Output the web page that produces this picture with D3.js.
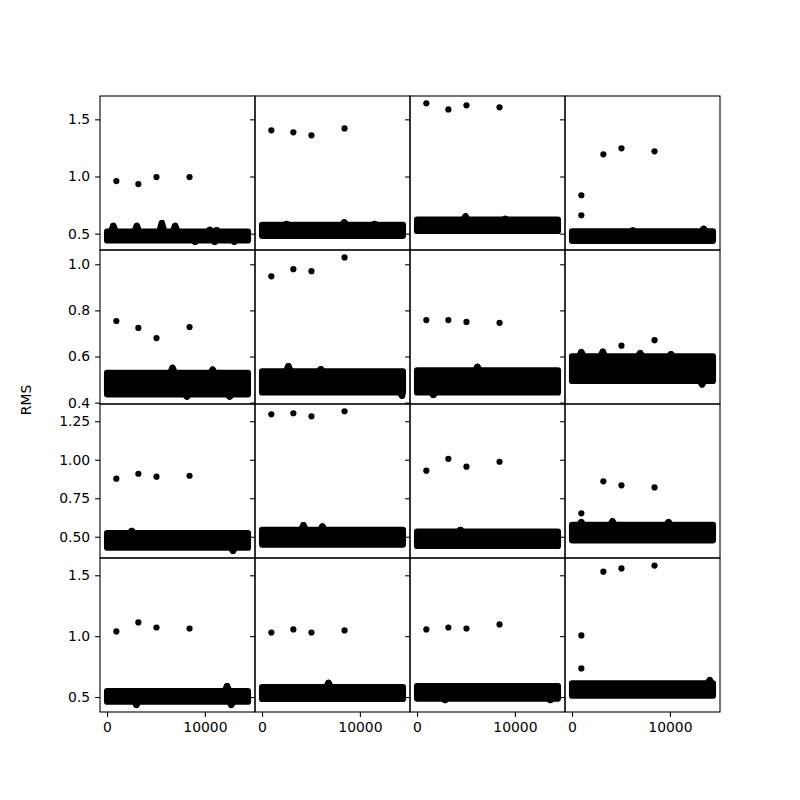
<!DOCTYPE html>
<html><head><meta charset="utf-8">
<script src="https://cdn.jsdelivr.net/npm/d3@7"></script>
<style>body{margin:0;background:#fff} text{font-family:"DejaVu Sans",sans-serif;}</style>
</head><body><svg id="c" width="800" height="800"></svg>
<script>
// ---- data ----
const xStart = 0, xEnd = 14400;              // sample index range of the dense band
const xTicks = [0, 10000];
const rowYLim = [[0.357, 1.704], [0.394, 1.062], [0.362, 1.362], [0.377, 1.642]];
const rowYTicks = [[0.5, 1.0, 1.5], [0.4, 0.6, 0.8, 1.0], [0.5, 0.75, 1.0, 1.25], [0.5, 1.0, 1.5]];
const rowTickFormat = [".1f", ".1f", ".2f", ".1f"];
// dense band of RMS values per panel (row-major, 4x4): lower / upper marker centres
const bandLo = [0.441, 0.481, 0.524, 0.437,
                0.436, 0.444, 0.444, 0.494,
                0.429, 0.449, 0.440, 0.477,
                0.462, 0.484, 0.487, 0.511];
const bandHi = [0.518, 0.578, 0.622, 0.520,
                0.529, 0.536, 0.540, 0.601,
                0.523, 0.545, 0.534, 0.577,
                0.548, 0.581, 0.590, 0.612];
// points sticking out of the band edges (peaks above / dips below)
const edgePoints = [
  [[640, 0.569], [3040, 0.569], [5600, 0.593], [6960, 0.569], [10500, 0.534], [11200, 0.530], [9000, 0.428], [11000, 0.428], [13000, 0.430]],
  [[8400, 0.599], [2500, 0.585], [11500, 0.585]],
  [[4950, 0.651], [9000, 0.630]],
  [[13450, 0.543], [6200, 0.528]],
  [[6690, 0.551], [10790, 0.543], [8160, 0.426], [12530, 0.426]],
  [[2690, 0.558], [6000, 0.545], [14310, 0.430]],
  [[6170, 0.555], [1670, 0.433]],
  [[948, 0.619], [3140, 0.621], [6960, 0.615], [10110, 0.610], [13290, 0.479]],
  [[2520, 0.538], [12870, 0.408]],
  [[4230, 0.575], [6170, 0.567]],
  [[4430, 0.545]],
  [[948, 0.595], [4130, 0.600], [9860, 0.595]],
  [[12260, 0.590], [3000, 0.435], [12700, 0.435]],
  [[6790, 0.617]],
  [[2870, 0.475], [13620, 0.475]],
  [[14070, 0.639]]
];
// isolated outliers
const outliers = [
  [[950, 0.960], [3200, 0.934], [5050, 0.995], [8430, 0.995]],
  [[950, 1.404], [3200, 1.386], [5050, 1.360], [8430, 1.420]],
  [[950, 1.640], [3200, 1.587], [5050, 1.622], [8430, 1.605]],
  [[950, 0.836], [950, 0.661], [3200, 1.194], [5050, 1.246], [8430, 1.220]],
  [[950, 0.754], [3200, 0.724], [5050, 0.680], [8430, 0.728]],
  [[950, 0.948], [3200, 0.979], [5050, 0.970], [8430, 1.030]],
  [[950, 0.758], [3200, 0.758], [5050, 0.750], [8430, 0.746]],
  [[5050, 0.647], [8430, 0.671]],
  [[950, 0.877], [3200, 0.909], [5050, 0.890], [8430, 0.896]],
  [[950, 1.295], [3200, 1.302], [5050, 1.282], [8430, 1.315]],
  [[950, 0.929], [3200, 1.006], [5050, 0.955], [8430, 0.987]],
  [[950, 0.652], [3200, 0.860], [5050, 0.834], [8430, 0.820]],
  [[950, 1.039], [3200, 1.113], [5050, 1.071], [8430, 1.063]],
  [[950, 1.030], [3200, 1.055], [5050, 1.030], [8430, 1.047]],
  [[950, 1.055], [3200, 1.071], [5050, 1.063], [8430, 1.096]],
  [[950, 1.006], [950, 0.735], [3200, 1.530], [5050, 1.556], [8430, 1.580]]
];
const yLabel = "RMS";

// ---- layout ----
const W = 800, H = 800;
const mLeft = 100, mRight = 720, mTop = 96, mBottom = 712;
const nR = 4, nC = 4;
const cw = (mRight - mLeft) / nC, ch = (mBottom - mTop) / nR;
const rad = 3.1, lw = 1.1, tickLen = 4.9, fs = 13.9;

const svg = d3.select("#c");
svg.append("rect").attr("width", W).attr("height", H).attr("fill", "#fff");

const pad = (xEnd - xStart) * 0.05;
const x = d3.scaleLinear().domain([xStart - pad, xEnd + pad]).range([0, cw]);
const bumpHalf = x.invert(x(0) + 2.6) - x.invert(x(0)); // half-width of a bump, in data units

for (let i = 0; i < nR; i++) {
  const y = d3.scaleLinear().domain(rowYLim[i]).range([ch, 0]);
  for (let j = 0; j < nC; j++) {
    const k = i * nC + j;
    const g = svg.append("g").attr("transform", `translate(${mLeft + j * cw},${mTop + i * ch})`);
    const cid = `clip${k}`;
    g.append("clipPath").attr("id", cid).append("rect").attr("width", cw).attr("height", ch);
    const pg = g.append("g").attr("clip-path", `url(#${cid})`);

    // outline of the dense band: bottom edge (with dips) then top edge (with peaks)
    const lo = bandLo[k], hi = bandHi[k];
    const dips = edgePoints[k].filter(p => p[1] < lo).sort((a, b) => a[0] - b[0]);
    const peaks = edgePoints[k].filter(p => p[1] > hi).sort((a, b) => b[0] - a[0]);
    const outline = [[xStart, lo]];
    dips.forEach(p => { outline.push([Math.max(xStart, p[0] - bumpHalf), lo], p, [Math.min(xEnd, p[0] + bumpHalf), lo]); });
    outline.push([xEnd, lo], [xEnd, hi]);
    peaks.forEach(p => { outline.push([Math.min(xEnd, p[0] + bumpHalf), hi], p, [Math.max(xStart, p[0] - bumpHalf), hi]); });
    outline.push([xStart, hi]);
    pg.append("path")
      .attr("d", d3.line().x(d => x(d[0])).y(d => y(d[1]))(outline) + "Z")
      .attr("fill", "#000").attr("stroke", "#000")
      .attr("stroke-width", 2 * rad).attr("stroke-linejoin", "round");
    pg.selectAll("circle.e").data(edgePoints[k]).join("circle").attr("class", "e")
      .attr("cx", d => x(d[0])).attr("cy", d => y(d[1])).attr("r", rad).attr("fill", "#000");
    pg.selectAll("circle.o").data(outliers[k]).join("circle").attr("class", "o")
      .attr("cx", d => x(d[0])).attr("cy", d => y(d[1])).attr("r", rad).attr("fill", "#000");

    // y axis (ticks in every panel, labels on first column)
    const ya = d3.axisLeft(y).tickValues(rowYTicks[i]).tickSize(tickLen).tickPadding(4.9)
      .tickFormat(j === 0 ? d3.format(rowTickFormat[i]) : () => "");
    const yg = g.append("g").call(ya);
    yg.select(".domain").remove();
    yg.selectAll("line").attr("stroke", "#000").attr("stroke-width", lw);
    yg.selectAll("text").attr("font-size", fs).attr("fill", "#000").attr("font-family", "DejaVu Sans");

    if (i === nR - 1) {
      const xa = d3.axisBottom(x).tickValues(xTicks).tickSize(tickLen).tickPadding(4.9).tickFormat(d3.format("d"));
      const xg = g.append("g").attr("transform", `translate(0,${ch})`).call(xa);
      xg.select(".domain").remove();
      xg.selectAll("line").attr("stroke", "#000").attr("stroke-width", lw);
      xg.selectAll("text").attr("font-size", fs).attr("fill", "#000").attr("font-family", "DejaVu Sans");
    }
    g.append("rect").attr("width", cw).attr("height", ch)
      .attr("fill", "none").attr("stroke", "#000").attr("stroke-width", lw);
  }
}

svg.append("text").attr("transform", "translate(26,400) rotate(-90)")
  .attr("text-anchor", "middle").attr("dominant-baseline", "central")
  .attr("font-size", fs).attr("fill", "#000").text(yLabel);
</script></body></html>
